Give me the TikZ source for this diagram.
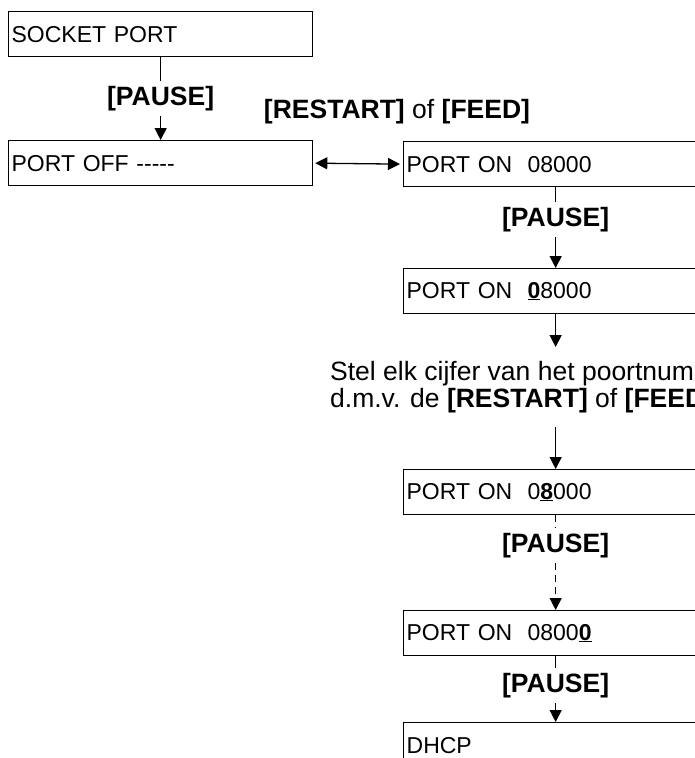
\documentclass[tikz,border=0pt]{standalone}
\usepackage{fontspec}
\setmainfont{Liberation Sans}
\usetikzlibrary{arrows.meta, positioning}

\begin{document}
\begin{tikzpicture}[
    x=1pt, y=-1pt,
    every node/.style={font=\fontsize{23}{27}\selectfont},
    box/.style={
        draw, line width=1.3pt,
        minimum width=304pt, minimum height=45pt,
        text width=298pt, inner xsep=3pt,
        align=left, anchor=north west
    },
    arr/.style={
        -{Triangle[length=12pt, width=12pt]},
        line width=1.3pt
    },
    dbl/.style={
        {Triangle[length=12pt, width=12pt]}-{Triangle[length=12pt, width=12pt]},
        line width=1.3pt, shorten <=2pt, shorten >=3pt
    },
    keylbl/.style={
        font=\fontsize{26.5}{27}\selectfont,
        fill=white, inner xsep=2pt, inner ysep=5pt
    },
    hint/.style={
        font=\fontsize{26.5}{27}\selectfont,
        align=left, anchor=north west,
        inner xsep=0pt, inner ysep=14pt
    }
]
\useasboundingbox (0,0) rectangle (695,758);
\clip (0,0) rectangle (695,758);

% Nodes
\node[box] (sock) at (8,11)  {SOCKET PORT};
\node[box] (off)  at (8,140) {PORT OFF -{}-{}-{}-{}-};
\node[box] (on)   at (403,141) {PORT ON~~08000};
\node[box] (on0)  at (403,268) {PORT ON~~\underline{\textbf{0}}8000};
\node[hint] (hint) at (330,347)
    {Stel elk cijfer van het poortnummer in\\
     d.m.v. de \textbf{[RESTART]} of \textbf{[FEED]} toets.};
\node[box] (on8)  at (403,469) {PORT ON~~0\underline{\textbf{8}}000};
\node[box] (onl)  at (403,610) {PORT ON~~0800\underline{\textbf{0}}};
\node[box] (dhcp) at (403,722) {DHCP};

\node[keylbl, fill=none] (keys) at (397,112) {\textbf{[RESTART]} of \textbf{[FEED]}};

% Arrows
\draw[arr] (sock) -- node[keylbl, pos=0.5] {\textbf{[PAUSE]}} (off);
\draw[dbl] (off.east) -- (on.west);
\draw[arr] (on) -- node[keylbl, pos=0.4] {\textbf{[PAUSE]}} (on0);
\draw[arr] (on0.south) -- (on0.south |- hint.north);
\draw[arr] (on8.north |- hint.south) -- (on8.north);
\draw[arr, dash pattern=on 7pt off 5pt] (on8) -- node[keylbl, pos=0.32] {\textbf{[PAUSE]}} (onl);
\draw[arr] (onl) -- node[keylbl, pos=0.44] {\textbf{[PAUSE]}} (dhcp);

\end{tikzpicture}
\end{document}
